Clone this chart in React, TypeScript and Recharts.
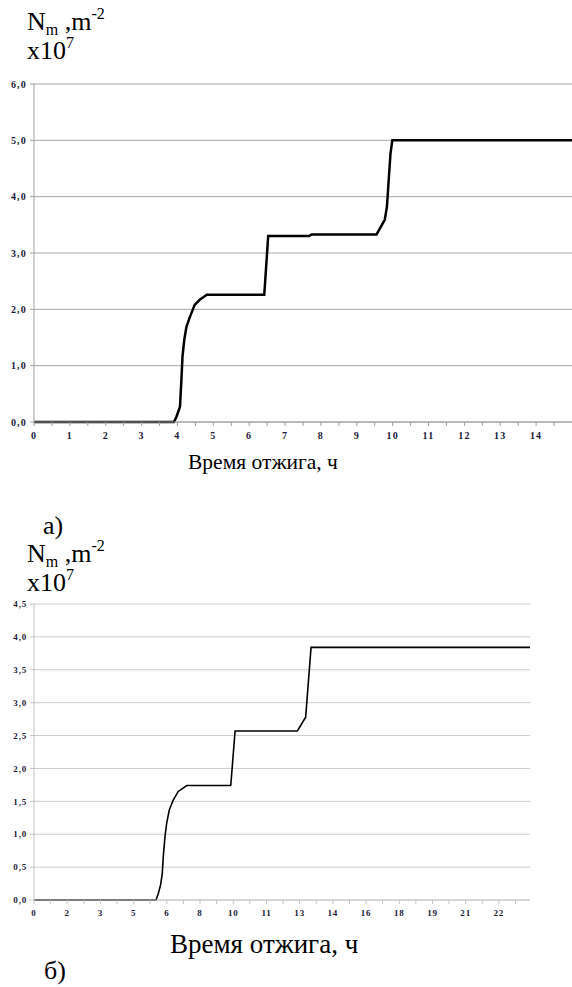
import type { ReactNode } from "react";
import { CartesianGrid, Line, LineChart, XAxis, YAxis } from "recharts";

// chart а): hours vs Nm (x10^7 m^-2)
const timeA = [0, 3.9, 3.97, 4.07, 4.11, 4.14, 4.19, 4.25, 4.35, 4.48, 4.62, 4.82, 6.42, 6.53, 7.67, 7.74, 9.55, 9.78, 9.84, 9.89, 9.94, 9.99, 15];
const valueA = [0, 0, 0.09, 0.27, 0.75, 1.16, 1.46, 1.69, 1.87, 2.08, 2.17, 2.26, 2.26, 3.3, 3.3, 3.33, 3.33, 3.59, 3.82, 4.3, 4.77, 5.0, 5.0];
const xLabelsA = ["0", "1", "2", "3", "4", "5", "6", "7", "8", "9", "10", "11", "12", "13", "14"];
const yTicksA = [0, 1, 2, 3, 4, 5, 6];

// chart б)
const timeB = [0, 5.88, 5.99, 6.1, 6.18, 6.23, 6.31, 6.39, 6.52, 6.71, 6.95, 7.36, 9.48, 9.69, 12.69, 13.09, 13.35, 23.9];
const valueB = [0, 0, 0.1, 0.23, 0.4, 0.66, 0.96, 1.16, 1.37, 1.52, 1.65, 1.74, 1.74, 2.57, 2.57, 2.78, 3.84, 3.84];
const xLabelsB = ["0", "2", "3", "5", "6", "8", "10", "11", "13", "14", "16", "18", "19", "21", "22"];
const yTicksB = [0, 0.5, 1, 1.5, 2, 2.5, 3, 3.5, 4, 4.5];

const dataA = timeA.map((t, i) => ({ t, v: valueA[i] }));
const dataB = timeB.map((t, i) => ({ t, v: valueB[i] }));

// minor ticks: every half hour on а), every 0.8 h on б) (labels on every second one)
const ticksA = Array.from({ length: 30 }, (_, k) => k * 0.5);
const ticksB = Array.from({ length: 30 }, (_, k) => k * 0.8);

const fmtY = (v: number) => v.toFixed(1).replace(".", ",");

function labelA(v: number) {
  const k = Math.round(v * 2);
  return k % 2 === 0 && xLabelsA[k / 2] !== undefined ? xLabelsA[k / 2] : "";
}

function labelB(v: number) {
  const k = Math.round(v / 0.8);
  return k % 2 === 0 && xLabelsB[k / 2] !== undefined ? xLabelsB[k / 2] : "";
}

// html text placed by its baseline (line-height 1 -> baseline ~0.84em below top)
function Txt({ x, base, size, children }: { x: number; base: number; size: number; children: ReactNode }) {
  return (
    <div
      style={{
        position: "absolute",
        left: x,
        top: base - 0.84 * size,
        fontSize: size,
        lineHeight: 1,
        fontFamily: "Liberation Serif",
        whiteSpace: "nowrap",
        color: "#000",
      }}
    >
      {children}
    </div>
  );
}

const small = (dy: number) => ({ fontSize: 16, position: "relative" as const, top: dy });

function Title({ y }: { y: number }) {
  return (
    <>
      <Txt x={27} base={y} size={26}>
        N<span style={small(5)}>m</span> ,m<span style={small(-11)}>-2</span>
      </Txt>
      <Txt x={27} base={y + 29} size={26}>
        x10<span style={small(-11)}>7</span>
      </Txt>
    </>
  );
}

export default function App() {
  const tickA = { fontSize: 10, fontWeight: 700, fill: "#1b1b3a", fontFamily: "Liberation Serif", letterSpacing: 1.2 };
  const tickB = { fontSize: 9, fontWeight: 700, fill: "#1b1b3a", fontFamily: "Liberation Serif", letterSpacing: 0.8 };

  return (
    <div style={{ position: "fixed", left: 0, top: 0, width: 572, height: 987, overflow: "hidden", background: "#fff" }}>
      <div style={{ position: "absolute", left: 0, top: 0 }}>
        <LineChart width={580} height={460} data={dataA} margin={{ top: 84, right: 8, bottom: 8, left: 4 }}>
          <CartesianGrid vertical={false} stroke="#a6a6a6" />
          <XAxis
            dataKey="t"
            type="number"
            domain={[0, 15]}
            ticks={ticksA}
            interval={0}
            tickFormatter={labelA}
            height={30}
            stroke="#a0a0a0"
            tickSize={4}
            tickMargin={6}
            tick={tickA}
          />
          <YAxis
            type="number"
            domain={[0, 6]}
            ticks={yTicksA}
            interval={0}
            tickFormatter={fmtY}
            width={30}
            stroke="#a0a0a0"
            tickSize={4}
            tickMargin={3}
            tick={tickA}
          />
          <Line type="linear" dataKey="v" stroke="#000" strokeWidth={2.5} dot={false} isAnimationActive={false} />
        </LineChart>
      </div>

      <div style={{ position: "absolute", left: 0, top: 520 }}>
        <LineChart width={540} height={420} data={dataB} margin={{ top: 84, right: 10, bottom: 10, left: 4 }}>
          <CartesianGrid vertical={false} stroke="#cccccc" />
          <XAxis
            dataKey="t"
            type="number"
            domain={[0, 23.9]}
            ticks={ticksB}
            interval={0}
            tickFormatter={labelB}
            height={30}
            stroke="#c4c4c4"
            tickSize={4}
            tickMargin={6}
            tick={tickB}
          />
          <YAxis
            type="number"
            domain={[0, 4.5]}
            ticks={yTicksB}
            interval={0}
            tickFormatter={fmtY}
            width={30}
            stroke="#c4c4c4"
            tickSize={4}
            tickMargin={3}
            tick={tickB}
          />
          <Line type="linear" dataKey="v" stroke="#000" strokeWidth={1.6} dot={false} isAnimationActive={false} />
        </LineChart>
      </div>

      <Title y={31} />
      <Txt x={188} base={470} size={21.5}>Время отжига, ч</Txt>
      <Txt x={43} base={535} size={26}>а)</Txt>
      <Title y={563} />
      <Txt x={170} base={954} size={27}>Время отжига, ч</Txt>
      <Txt x={44} base={980} size={26}>б)</Txt>
    </div>
  );
}
